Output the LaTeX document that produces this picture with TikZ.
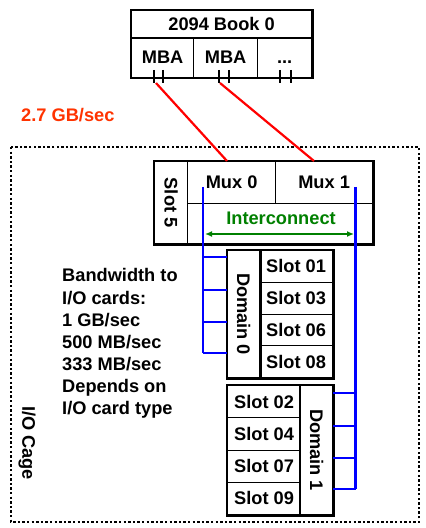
\documentclass[tikz,border=0pt]{standalone}
\usepackage{fontspec}
\setmainfont{Liberation Sans}
\usetikzlibrary{arrows.meta,calc}
\definecolor{rateorange}{HTML}{FF3300}
\definecolor{busblue}{HTML}{0000FF}
\definecolor{icgreen}{HTML}{008000}
\tikzset{
  txt/.style={font=\bfseries\fontsize{18.3}{22.2}\selectfont, inner sep=0pt},
  cell/.style={draw, line width=1.2bp, inner sep=0pt, anchor=north west, font=\bfseries\fontsize{18.3}{22.2}\selectfont},
  outer/.style={draw, line width=2.6bp},
  redlink/.style={draw=red, line width=2.2bp},
  bus/.style={draw=busblue, line width=2.2bp},
  tick/.style={draw, line width=1.6bp},
  cage/.style={draw, line width=2.6bp, dash pattern=on 2.4bp off 2.2bp},
}
\begin{document}
\begin{tikzpicture}[x=1bp,y=-1bp]
\useasboundingbox (0,0) rectangle (425,528);

% I/O cage
\draw[cage] (11,147) rectangle (419,522);
\node[txt, rotate=-90] (cagelbl) at (27,443) {I/O Cage};

% Book
\node[cell, minimum width=180bp, minimum height=27bp] (book) at (131,10) {2094 Book 0};
\node[cell, minimum width=62bp, minimum height=40bp] (mba1) at (131,37) {MBA};
\node[cell, minimum width=64bp, minimum height=40bp] (mba2) at (193,37) {MBA};
\node[cell, minimum width=54bp, minimum height=40bp] (mba3) at (257,37) {\vphantom{MBA}...};
\draw[outer] (book.north west) rectangle (mba3.south east);
\draw[line width=1.6bp] (book.south west) -- (book.south east);

% ticks
\foreach \x [count=\i] in {154,163,219,229,280,291} {
  \coordinate (tk\i) at (\x,83);
  \draw[tick] (\x,70) -- (tk\i);
}

% rate label
\node[txt, text=rateorange, anchor=west] (rate) at (21,115) {2.7 GB/sec};

% Slot 5 box
\node[cell, minimum width=33bp, minimum height=82bp] (slot5) at (154,161) {};
\node[txt, rotate=-90] (slot5lbl) at (slot5.center) {Slot 5};
\node[cell, minimum width=88bp, minimum height=42bp] (mux0) at (187,161) {Mux 0};
\node[cell, minimum width=97bp, minimum height=42bp] (mux1) at (275,161) {Mux 1};
\node[cell, minimum width=185bp, minimum height=40bp] (inter) at (187,203) {};
\node[txt, text=icgreen] (interlbl) at (281,218) {Interconnect};
\draw[outer] (slot5.north west) rectangle (inter.south east);

% red links
\coordinate (m0in) at (227,161);
\coordinate (m1in) at (314,161);
\draw[redlink] ($(tk1)+(2,0)$) -- (m0in);
\draw[redlink] ($(tk3)+(1,0)$) -- (m1in);

% Domain 0 block
\node[cell, minimum width=32bp, minimum height=127bp] (dom0) at (227,250) {};
\node[txt, rotate=-90] (dom0lbl) at (dom0.center) {Domain 0};
\node[cell, minimum width=73bp, minimum height=31.75bp] (s01) at (259,250) {Slot 01};
\node[cell, minimum width=73bp, minimum height=31.75bp] (s03) at (259,281.75) {Slot 03};
\node[cell, minimum width=73bp, minimum height=31.75bp] (s06) at (259,313.5) {Slot 06};
\node[cell, minimum width=73bp, minimum height=31.75bp] (s08) at (259,345.25) {Slot 08};
\draw[outer] (dom0.north west) rectangle (s08.south east);
\draw[outer] (dom0.north east) -- (dom0.south east);

% Domain 1 block
\node[cell, minimum width=73bp, minimum height=32.25bp] (s02) at (227,385) {Slot 02};
\node[cell, minimum width=73bp, minimum height=32.25bp] (s04) at (227,417.25) {Slot 04};
\node[cell, minimum width=73bp, minimum height=32.25bp] (s07) at (227,449.5) {Slot 07};
\node[cell, minimum width=73bp, minimum height=32.25bp] (s09) at (227,481.75) {Slot 09};
\node[cell, minimum width=32bp, minimum height=129bp] (dom1) at (300,385) {};
\node[txt, rotate=-90] (dom1lbl) at (dom1.center) {Domain 1};
\draw[outer] (s02.north west) rectangle (dom1.south east);
\draw[outer] (dom1.north west) -- (dom1.south west);

% blue buses
\coordinate (busLtop) at (203,187);
\coordinate (busRtop) at (355.5,187);
\foreach \y [count=\i] in {257,290,322,353} {
  \coordinate (lb\i) at (203,\y);
  \draw[bus] (lb\i) -- (lb\i -| dom0.west);
}
\foreach \y [count=\i] in {393,426,458,489} {
  \coordinate (rb\i) at (355.5,\y);
  \draw[bus] (rb\i) -- (rb\i -| dom1.east);
}
\draw[bus] (busLtop) -- (lb4);
\draw[bus] (busRtop) -- (rb4);

% interconnect arrow
\coordinate (iga) at (205,234);
\coordinate (igb) at (354,234);
\draw[icgreen, line width=1.8bp, {Latex[length=7bp,width=6bp]}-{Latex[length=7bp,width=6bp]}] (iga) -- (igb);

% bandwidth text
\node[txt, anchor=north west, align=left] (bwtext) at (62,268.5) {Bandwidth to\\I/O cards:\\1 GB/sec\\500 MB/sec\\333 MB/sec\\Depends on\\I/O card type};
\end{tikzpicture}
\end{document}
